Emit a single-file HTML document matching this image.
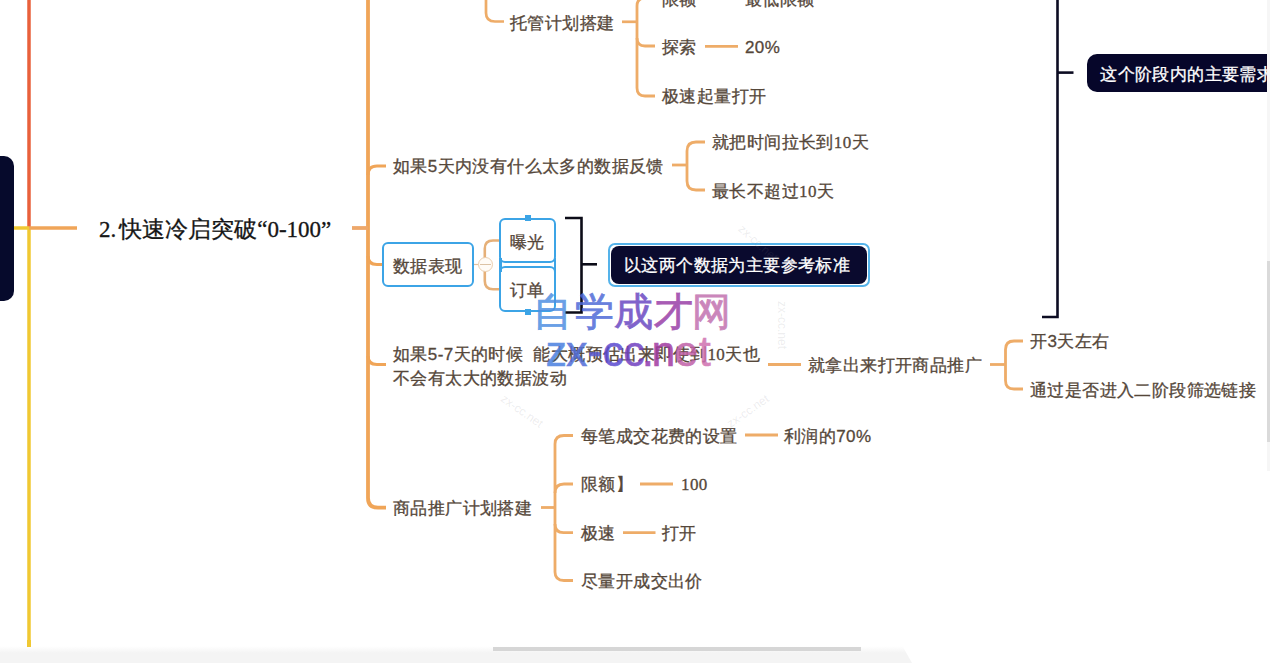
<!DOCTYPE html>
<html><head><meta charset="utf-8"><style>
html,body{margin:0;padding:0;width:1270px;height:663px;overflow:hidden;background:#fff;}
body{position:relative;font-family:"Liberation Sans",sans-serif;}
.lines{position:absolute;left:0;top:0;}
.t{position:absolute;white-space:nowrap;letter-spacing:0.4px;-webkit-text-stroke:0.3px currentColor;line-height:24px;height:24px;}
.s{font-family:"Liberation Serif",serif;}
.box{position:absolute;box-sizing:border-box;}
.wm{position:absolute;white-space:nowrap;opacity:0.85;}
.fw{position:absolute;white-space:nowrap;font:12px/14px "Liberation Sans",sans-serif;color:rgba(120,120,130,0.14);width:60px;text-align:center;}
</style></head><body>
<div class="box" style="left:-12px;top:156px;width:26px;height:145px;border-radius:10px;background:#060a2c"></div>
<svg class="lines" width="1270" height="663" viewBox="0 0 1270 663"><path d="M29 0 V228" stroke="#e9603b" stroke-width="3.5" fill="none" stroke-linecap="butt"/><path d="M29 228 V647" stroke="#f0c832" stroke-width="3.5" fill="none" stroke-linecap="butt"/><path d="M14 228 H29" stroke="#f0c832" stroke-width="3.5" fill="none" stroke-linecap="butt"/><path d="M29 228 H77" stroke="#f0a558" stroke-width="3.5" fill="none" stroke-linecap="butt"/><path d="M368 0 V498 Q368 507.6 378 507.6 H386" stroke="#f0a558" stroke-width="3.8" fill="none" stroke-linecap="butt"/><path d="M352 228 H368" stroke="#eea86a" stroke-width="3.8" fill="none" stroke-linecap="butt"/><path d="M368 175 Q368 166 377 166 H386" stroke="#f0a558" stroke-width="3.2" fill="none" stroke-linecap="butt"/><path d="M368 256 Q368 264.5 377 264.5 H383" stroke="#f0a558" stroke-width="3.2" fill="none" stroke-linecap="butt"/><path d="M368 356 Q368 364.5 377 364.5 H386" stroke="#f0a558" stroke-width="3.2" fill="none" stroke-linecap="butt"/><path d="M486 0 V13 Q486 21.5 495 21.5 H504" stroke="#eeac68" stroke-width="2.7" fill="none" stroke-linecap="butt"/><path d="M622 21.8 H637" stroke="#eeac68" stroke-width="2.7" fill="none" stroke-linecap="butt"/><path d="M655 -2 H645 Q637 -2 637 6 V88 Q637 96 645 96 H655" stroke="#eeac68" stroke-width="2.8" fill="none" stroke-linecap="butt"/><path d="M637 38 Q637 46 645 46 H655" stroke="#eeac68" stroke-width="2.8" fill="none" stroke-linecap="butt"/><path d="M705 46.3 H738" stroke="#eeac68" stroke-width="2.8" fill="none" stroke-linecap="butt"/><path d="M672 165 H687" stroke="#eeac68" stroke-width="2.8" fill="none" stroke-linecap="butt"/><path d="M705 142 H696 Q687 142 687 151 V181 Q687 190 696 190 H705" stroke="#eeac68" stroke-width="2.8" fill="none" stroke-linecap="butt"/><path d="M474 264.5 H485" stroke="#e0c0a0" stroke-width="1.2" fill="none" stroke-linecap="butt"/><path d="M503 240.5 H493 Q484.8 240.5 484.8 248.5 V281 Q484.8 289.3 493 289.3 H503" stroke="#e6b078" stroke-width="2.6" fill="none" stroke-linecap="butt"/><path d="M768 364.5 H801" stroke="#eeac68" stroke-width="2.8" fill="none" stroke-linecap="butt"/><path d="M990 364.5 H1005.5" stroke="#eeac68" stroke-width="2.8" fill="none" stroke-linecap="butt"/><path d="M1023 341 H1014 Q1005.5 341 1005.5 349.5 V380.5 Q1005.5 389 1014 389 H1023" stroke="#eeac68" stroke-width="2.8" fill="none" stroke-linecap="butt"/><path d="M541 507.5 H555" stroke="#eeac68" stroke-width="2.8" fill="none" stroke-linecap="butt"/><path d="M573 435.5 H564 Q555 435.5 555 444 V572 Q555 580.5 564 580.5 H573" stroke="#eeac68" stroke-width="2.8" fill="none" stroke-linecap="butt"/><path d="M555 493 Q555 484 564 484 H573" stroke="#eeac68" stroke-width="2.8" fill="none" stroke-linecap="butt"/><path d="M555 524 Q555 532.6 563.5 532.6 H573" stroke="#eeac68" stroke-width="2.8" fill="none" stroke-linecap="butt"/><path d="M745 435 H778" stroke="#eeac68" stroke-width="2.8" fill="none" stroke-linecap="butt"/><path d="M640 484 H673" stroke="#eeac68" stroke-width="2.8" fill="none" stroke-linecap="butt"/><path d="M623 532.6 H655.5" stroke="#eeac68" stroke-width="2.8" fill="none" stroke-linecap="butt"/><path d="M565 218 H581.5 V312.5 H565" stroke="#0c0c18" stroke-width="2.6" fill="none" stroke-linecap="butt"/><path d="M581.5 264.3 H597" stroke="#0c0c18" stroke-width="2.6" fill="none" stroke-linecap="butt"/><path d="M1057.5 0 V317 H1042" stroke="#0c0c22" stroke-width="2.6" fill="none" stroke-linecap="butt"/><path d="M1057.5 72.6 H1073.5" stroke="#0c0c22" stroke-width="2.6" fill="none" stroke-linecap="butt"/></svg>
<div class="box" style="left:382px;top:242px;width:92px;height:45px;border:2.5px solid #3ca4e6;border-radius:6px;background:#fff"></div>
<div class="box" style="left:499px;top:217.7px;width:57px;height:45.8px;border:2.5px solid #3ca4e6;border-radius:6px;background:#fff"></div>
<div class="box" style="left:499px;top:266px;width:57px;height:45.7px;border:2.5px solid #3ca4e6;border-radius:6px;background:#fff"></div>
<div class="box" style="left:499px;top:258px;width:2.5px;height:14px;background:#3ca4e6"></div>
<div class="box" style="left:553.5px;top:258px;width:2.5px;height:14px;background:#3ca4e6"></div>
<div class="box" style="left:524.5px;top:215px;width:6px;height:6px;background:#3ca4e6"></div>
<div class="box" style="left:524.5px;top:308.5px;width:6px;height:6px;background:#3ca4e6"></div>
<div class="box" style="left:478px;top:257px;width:14.8px;height:14.8px;border:1.5px solid #ebcfb0;border-radius:50%;background:#fffbf6"></div>
<div class="box" style="left:480.2px;top:263.8px;width:10.4px;height:1.3px;background:#dcc2a4"></div>
<div class="box" style="left:607.7px;top:242.7px;width:262.3px;height:44.1px;border:2px solid #55b3ea;border-radius:7px;background:#fff"></div>
<div class="box" style="left:610.6px;top:245.6px;width:256.6px;height:38.4px;border-radius:8px;background:#0a0a2e"></div>
<div class="box" style="left:1086.7px;top:53.6px;width:200px;height:38.6px;border-radius:10px;background:#06062a"></div>
<div class="t" style="left:662.0px;top:-12.5px;font-size:17.0px;color:#55473a;">限额</div>
<div class="t" style="left:745.0px;top:-12.5px;font-size:17.0px;color:#55473a;">最低限额</div>
<div class="t" style="left:510.0px;top:11.5px;font-size:17.0px;color:#55473a;">托管计划搭建</div>
<div class="t" style="left:662.0px;top:35.5px;font-size:17.0px;color:#55473a;">探索</div>
<div class="t" style="left:745.0px;top:35.5px;font-size:17.0px;color:#55473a;">20%</div>
<div class="t" style="left:662.0px;top:85.0px;font-size:17.0px;color:#55473a;">极速起量打开</div>
<div class="t" style="left:393.0px;top:155.3px;font-size:17.0px;color:#55473a;">如果5天内没有什么太多的数据反馈</div>
<div class="t" style="left:712.0px;top:131.0px;font-size:17.0px;color:#55473a;">就把时间拉长到<span class="s">10</span>天</div>
<div class="t" style="left:712.0px;top:179.5px;font-size:17.0px;color:#55473a;">最长不超过<span class="s">10</span>天</div>
<div class="t" style="left:393.0px;top:343.0px;font-size:17.0px;color:#55473a;">如果5-7天的时候&nbsp;&nbsp;能大概预估出来即使到<span class="s">10</span>天也</div>
<div class="t" style="left:393.0px;top:366.5px;font-size:17.0px;color:#55473a;">不会有太大的数据波动</div>
<div class="t" style="left:808.0px;top:354.0px;font-size:17.0px;color:#55473a;">就拿出来打开商品推广</div>
<div class="t" style="left:1030.0px;top:330.0px;font-size:17.0px;color:#55473a;">开3天左右</div>
<div class="t" style="left:1030.0px;top:378.5px;font-size:17.0px;color:#55473a;">通过是否进入二阶段筛选链接</div>
<div class="t" style="left:393.0px;top:497.0px;font-size:17.0px;color:#55473a;">商品推广计划搭建</div>
<div class="t" style="left:581.0px;top:424.8px;font-size:17.0px;color:#55473a;">每笔成交花费的设置</div>
<div class="t" style="left:784.0px;top:424.5px;font-size:17.0px;color:#55473a;">利润的70%</div>
<div class="t" style="left:581.0px;top:473.0px;font-size:17.0px;color:#55473a;">限额】</div>
<div class="t" style="left:681.0px;top:473.0px;font-size:17.0px;color:#55473a;"><span class="s">100</span></div>
<div class="t" style="left:581.0px;top:521.6px;font-size:17.0px;color:#55473a;">极速</div>
<div class="t" style="left:662.0px;top:521.6px;font-size:17.0px;color:#55473a;">打开</div>
<div class="t" style="left:581.0px;top:570.0px;font-size:17.0px;color:#55473a;">尽量开成交出价</div>
<div class="t" style="left:393.0px;top:254.5px;font-size:17.0px;color:#55473a;">数据表现</div>
<div class="t" style="left:99.0px;top:216.8px;font-size:23.0px;color:#161616;letter-spacing:0"><span class="s" style="margin-right:3px">2.</span>快速冷启突破<span class="s">“0-100”</span></div>
<div class="t" style="left:510.0px;top:230.8px;font-size:17.0px;color:#55473a;">曝光</div>
<div class="t" style="left:510.0px;top:279.1px;font-size:17.0px;color:#55473a;">订单</div>
<div class="t" style="left:624.0px;top:254.0px;font-size:17.0px;color:#ffffff;">以这两个数据为主要参考标准</div>
<div class="t" style="left:1100.3px;top:62.5px;font-size:17.0px;color:#ffffff;">这个阶段内的主要需求</div>
<div class="box" style="left:1266.7px;top:0;width:3.3px;height:471px;background:#f6f6f6"></div>
<div class="box" style="left:1267px;top:261px;width:3px;height:181px;background:#dadada"></div>
<div class="fw" style="left:728px;top:236px;transform:rotate(42deg)">zx-cc.net</div>
<div class="fw" style="left:752px;top:318px;transform:rotate(90deg)">zx-cc.net</div>
<div class="fw" style="left:492px;top:404px;transform:rotate(35deg)">zx-cc.net</div>
<div class="fw" style="left:718px;top:404px;transform:rotate(-35deg)">zx-cc.net</div>
<div class="wm" style="left:533.3px;top:284.5px;font:39px/54px 'Liberation Sans',sans-serif;color:#4f90e2;-webkit-text-stroke:0.8px #4f90e2">自</div><div class="wm" style="left:575.3px;top:284.5px;font:39px/54px 'Liberation Sans',sans-serif;color:#4f6ad8;-webkit-text-stroke:0.8px #4f6ad8">学</div><div class="wm" style="left:614.0px;top:284.5px;font:39px/54px 'Liberation Sans',sans-serif;color:#6a48c2;-webkit-text-stroke:0.8px #6a48c2">成</div><div class="wm" style="left:654.0px;top:284.5px;font:39px/54px 'Liberation Sans',sans-serif;color:#9a40a8;-webkit-text-stroke:0.8px #9a40a8">才</div><div class="wm" style="left:692.3px;top:284.5px;font:39px/54px 'Liberation Sans',sans-serif;color:#c272b0;-webkit-text-stroke:0.8px #c272b0">网</div><div class="wm" style="left:545.8px;top:327px;font:42px/50px 'Liberation Sans',sans-serif;color:#4a80e0;-webkit-text-stroke:0.7px #4a80e0">z</div><div class="wm" style="left:566.2px;top:327px;font:42px/50px 'Liberation Sans',sans-serif;color:#4f6cd8;-webkit-text-stroke:0.7px #4f6cd8">x</div><div class="wm" style="left:588.0px;top:327px;font:42px/50px 'Liberation Sans',sans-serif;color:#5a5ad0;-webkit-text-stroke:0.7px #5a5ad0">-</div><div class="wm" style="left:602.7px;top:327px;font:42px/50px 'Liberation Sans',sans-serif;color:#5a4ad0;-webkit-text-stroke:0.7px #5a4ad0">c</div><div class="wm" style="left:623.5px;top:327px;font:42px/50px 'Liberation Sans',sans-serif;color:#7040c0;-webkit-text-stroke:0.7px #7040c0">c</div><div class="wm" style="left:642.0px;top:327px;font:42px/50px 'Liberation Sans',sans-serif;color:#903ab0;-webkit-text-stroke:0.7px #903ab0">.</div><div class="wm" style="left:651.8px;top:327px;font:42px/50px 'Liberation Sans',sans-serif;color:#a03aa0;-webkit-text-stroke:0.7px #a03aa0">n</div><div class="wm" style="left:674.6px;top:327px;font:42px/50px 'Liberation Sans',sans-serif;color:#c060a8;-webkit-text-stroke:0.7px #c060a8">e</div><div class="wm" style="left:699.0px;top:327px;font:42px/50px 'Liberation Sans',sans-serif;color:#d070b0;-webkit-text-stroke:0.7px #d070b0">t</div>
<div class="box" style="left:0;top:646px;width:912px;height:17px;background:linear-gradient(#fff,#f4f4f4 7px);clip-path:polygon(0 0,903px 0,903px 1px,912px 17px,0 17px)"></div>
<div class="box" style="left:27.25px;top:640px;width:3.5px;height:7px;background:#f0c832"></div>
<div class="box" style="left:493px;top:647px;width:368px;height:4px;background:#d6d6d6"></div>
</body></html>
